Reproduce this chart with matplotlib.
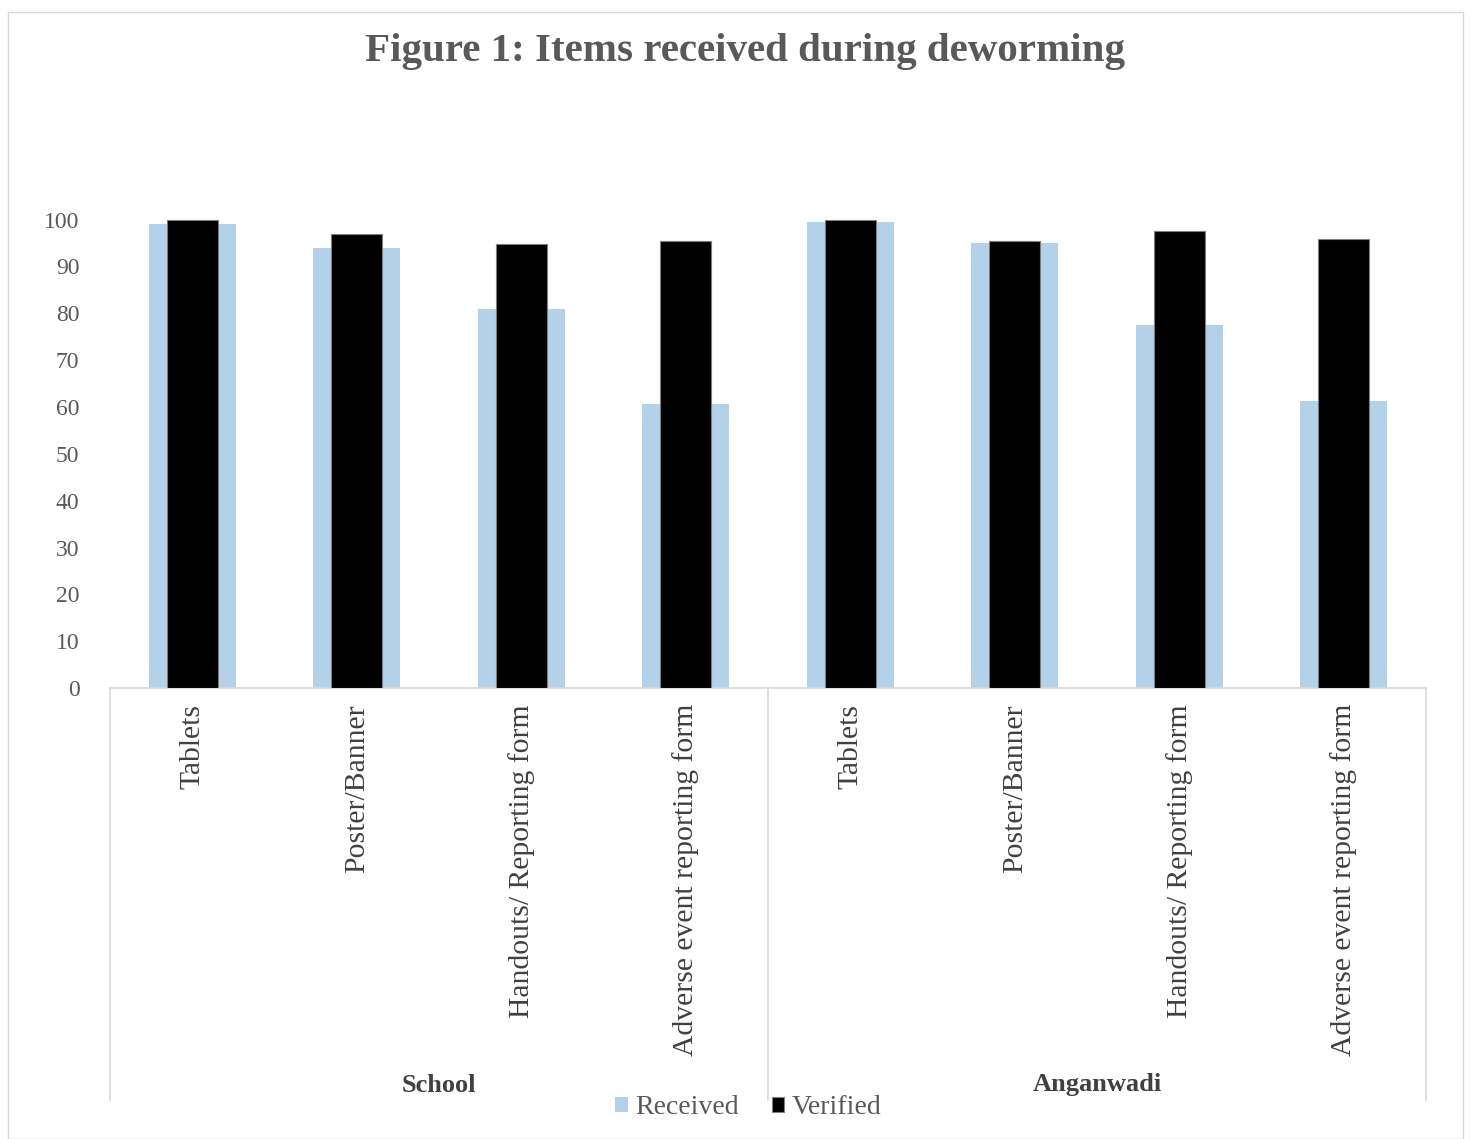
import matplotlib
matplotlib.use("Agg")
import matplotlib.pyplot as plt
import matplotlib.transforms as mtransforms
from matplotlib.patches import Rectangle
import numpy as np

items = ["Tablets", "Poster/Banner", "Handouts/ Reporting form", "Adverse event reporting form"]
groups = ["School", "Anganwadi"]
categories = items + items
received = [99, 94, 81, 60.6, 99.4, 95.1, 77.5, 61.3]
verified = [100, 97, 94.7, 95.4, 100, 95.5, 97.6, 95.9]
yticks = [0, 10, 20, 30, 40, 50, 60, 70, 80, 90, 100]

FONT = ["Liberation Serif", "DejaVu Serif"]
GRAY = "#595959"
plt.rcParams["font.family"] = FONT

fig = plt.figure(figsize=(14.7, 11.39), dpi=100)
ax = fig.add_axes([110/1470, 1-688/1139, (1426-110)/1470, (688-126)/1139])

x = np.arange(len(categories))
ax.bar(x, received, width=0.53, color="#b4d1ea", label="Received", zorder=2)
ax.bar(x, verified, width=0.31, color="black", edgecolor="#7f7f7f", linewidth=0.8,
       label="Verified", zorder=3)

ax.set_xlim(-0.5, len(categories) - 0.5)
ax.set_ylim(0, 120)
ax.set_yticks(yticks)
ax.set_yticklabels([str(v) for v in yticks], fontsize=17, color=GRAY)
ax.tick_params(axis="y", length=0, pad=22)
ax.tick_params(axis="x", length=0)
ax.set_xticks(x)
ax.set_xticklabels([])
for s in ["top", "right", "left"]:
    ax.spines[s].set_visible(False)
ax.spines["bottom"].set_color("#d9d9d9")
ax.spines["bottom"].set_linewidth(1.2)

# category labels (rotated)
trans = mtransforms.blended_transform_factory(ax.transData, ax.transAxes)
lab_y = (688 - 704) / 562
for xi, c in zip(x, categories):
    ax.text(xi, lab_y, c, rotation=90, ha="center", va="top", fontsize=21.3,
            color="#404040", transform=trans)

# group separators
line_bottom = (688 - 1100) / 562
for xs in [-0.5, 3.5, 7.5]:
    ax.plot([xs, xs], [0, line_bottom], transform=trans, color="#d9d9d9",
            linewidth=1.2, clip_on=False)

grp_y = (688 - 1085) / 562
for gi, g in enumerate(groups):
    ax.text(gi * 4 + 1.5, grp_y, g, ha="center", va="center", fontsize=19,
            fontweight="bold", color="#404040", transform=trans)

fig.legend(loc="center", bbox_to_anchor=(0.509, 1 - 1108/1139), ncol=2, frameon=False,
           fontsize=20, handlelength=0.45, handleheight=0.45, handletextpad=0.25,
           columnspacing=1.2, labelcolor=GRAY)

fig.text(0.507, 1 - 52/1139, "Figure 1: Items received during deworming", ha="center",
         va="center", fontsize=29.5, fontweight="bold", color=GRAY)

fig.patches.append(Rectangle((8/1470, 0), 1455/1470, 1 - 12/1139, transform=fig.transFigure,
                             fill=False, edgecolor="#d9d9d9", linewidth=1))

fig.savefig("out.png", dpi=100)
